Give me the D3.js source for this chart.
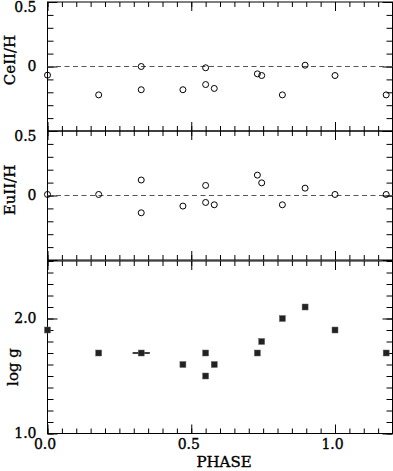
<!DOCTYPE html>
<html lang="en">
<head>
<meta charset="utf-8">
<title>CeII / EuII / log g vs phase</title>
<script src="https://cdn.jsdelivr.net/npm/d3@7"></script>
<style type="text/css">
  body { margin: 0; background: #fff; }
  svg { display: block; font-family: 'DejaVu Serif', serif; }
  text { stroke: #000; stroke-width: 0.35px; }
  .axis text { font-family: 'DejaVu Serif', serif; font-size: 14px; fill: #000; }
  .axis line { stroke: #000; }
  .axis path { display: none; }
</style>
</head>
<body>
<div id="chart"></div>
<script>

/* Data */
/* ==== */

// Abundance panels share these phases
var abPhase = [0.0, 0.178, 0.326, 0.326, 0.471, 0.55, 0.55, 0.58, 0.73, 0.745, 0.817, 0.896, 1.0, 1.178];
var ceII    = [-0.067, -0.22, 0.0, -0.18, -0.18, -0.01, -0.14, -0.17, -0.057, -0.07, -0.22, 0.01, -0.07, -0.22];
var euII    = [0.008, 0.008, 0.12, -0.134, -0.082, 0.078, -0.054, -0.072, 0.158, 0.098, -0.072, 0.057, 0.008, 0.008];

// log g panel
var gPhase    = [0.0, 0.178, 0.326, 0.471, 0.55, 0.55, 0.58, 0.73, 0.745, 0.817, 0.896, 1.0, 1.178];
var logg      = [1.9, 1.7, 1.7, 1.6, 1.7, 1.5, 1.6, 1.7, 1.8, 2.0, 2.1, 1.9, 1.7];
var gPhaseErr = [0, 0, 0.03, 0, 0, 0, 0, 0, 0, 0, 0, 0, 0];

var xMajor = [0, 0.5, 1.0];
var xLabels = ['0.0', '0.5', '1.0'];


/* Setup */
/* ===== */

var width = 393,
    height = 471,
    left = 47.5,
    right = 392.5;

var svg = d3.select('#chart').append('svg')
    .attr('width', width)
    .attr('height', height);

var x = d3.scaleLinear().domain([0, 1.2]).range([left, right]);

var xMinor = d3.range(0, 1.2001, 0.05);

var abFmt = function(d) { return d === 0 ? '0' : d3.format('.1f')(d); };

var panels = [
  { top: 2,   bottom: 131,   domain: [-0.5, 0.5], minor: d3.range(-0.5, 0.5001, 0.1), major: [-0.5, 0, 0.5],
    labels: [0.5, 0], fmt: abFmt, title: 'CeII/H', titleY: 60, titleX: 15 },
  { top: 131, bottom: 260,   domain: [-0.5, 0.5], minor: d3.range(-0.5, 0.5001, 0.1), major: [-0.5, 0, 0.5],
    labels: [0.5, 0], fmt: abFmt, title: 'EuII/H', titleY: 190, titleX: 15 },
  { top: 261, bottom: 433.5, domain: [1.0, 2.5],  minor: d3.range(1.0, 2.5001, 0.1), major: [1.0, 2.0],
    labels: [2.0, 1.0], fmt: d3.format('.1f'), title: 'log g', titleY: 367, titleX: 18 }
];

panels.forEach(function(p) {
  p.y = d3.scaleLinear().domain(p.domain).range([p.bottom, p.top]);
});


/* Frames and ticks */
/* ================ */

function drawFrame(p) {

  var g = svg.append('g');

  // inside ticks on all four sides
  [[xMinor, 5], [xMajor, 9]].forEach(function(t) {
    g.append('g').attr('class', 'axis')
      .attr('transform', 'translate(0,' + p.bottom + ')')
      .call(d3.axisBottom(x).tickValues(t[0]).tickSize(-t[1]).tickFormat(''));
    g.append('g').attr('class', 'axis')
      .attr('transform', 'translate(0,' + p.top + ')')
      .call(d3.axisTop(x).tickValues(t[0]).tickSize(-t[1]).tickFormat(''));
  });

  [[p.minor, 6], [p.major, 10]].forEach(function(t) {
    g.append('g').attr('class', 'axis')
      .attr('transform', 'translate(' + left + ',0)')
      .call(d3.axisLeft(p.y).tickValues(t[0]).tickSize(-t[1]).tickFormat(''));
    g.append('g').attr('class', 'axis')
      .attr('transform', 'translate(' + right + ',0)')
      .call(d3.axisRight(p.y).tickValues(t[0]).tickSize(-t[1]).tickFormat(''));
  });

  // y labels (the top one is pushed down to stay inside)
  var yl = g.append('g').attr('class', 'axis')
    .attr('transform', 'translate(' + left + ',0)')
    .call(d3.axisLeft(p.y).tickValues(p.labels).tickSize(0).tickPadding(11).tickFormat(p.fmt));
  yl.selectAll('.tick').attr('transform', function(d) {
    return 'translate(0,' + Math.max(p.y(d), p.top + 6) + ')';
  });

  // border
  g.append('rect')
    .attr('x', left).attr('y', p.top)
    .attr('width', right - left).attr('height', p.bottom - p.top)
    .attr('fill', 'none').attr('stroke', '#000').attr('stroke-width', 1);

  // y title
  svg.append('text')
    .attr('transform', 'translate(' + p.titleX + ',' + p.titleY + ') rotate(-90)')
    .attr('text-anchor', 'middle')
    .attr('font-size', 15)
    .attr('fill', '#000')
    .text(p.title);

} // drawFrame()

panels.forEach(drawFrame);


/* Abundance panels */
/* ================ */

[[panels[0], ceII], [panels[1], euII]].forEach(function(pair) {
  var p = pair[0], vals = pair[1];

  svg.append('line')
    .attr('x1', left).attr('x2', right)
    .attr('y1', p.y(0)).attr('y2', p.y(0))
    .attr('stroke', '#555').attr('stroke-dasharray', '5,3.5');

  svg.append('g').selectAll('circle')
    .data(vals)
    .join('circle')
      .attr('cx', function(d, i) { return x(abPhase[i]); })
      .attr('cy', function(d) { return p.y(d); })
      .attr('r', 3)
      .attr('fill', 'none')
      .attr('stroke', '#000')
      .attr('stroke-width', 1);
});


/* log g panel */
/* =========== */

var pg = panels[2];

// phase error bars
var errIdx = d3.range(logg.length).filter(function(i) { return gPhaseErr[i] > 0; });

svg.append('g').selectAll('line')
  .data(errIdx)
  .join('line')
    .attr('x1', function(i) { return x(gPhase[i] - gPhaseErr[i]); })
    .attr('x2', function(i) { return x(gPhase[i] + gPhaseErr[i]); })
    .attr('y1', function(i) { return pg.y(logg[i]); })
    .attr('y2', function(i) { return pg.y(logg[i]); })
    .attr('stroke', '#000').attr('stroke-width', 1.5);

svg.append('g').selectAll('rect')
  .data(logg)
  .join('rect')
    .attr('x', function(d, i) { return x(gPhase[i]) - 3; })
    .attr('y', function(d) { return pg.y(d) - 3; })
    .attr('width', 6).attr('height', 6)
    .attr('fill', '#222')
    .attr('stroke', '#666').attr('stroke-width', 0.5);


/* x labels */
/* ======== */

svg.append('g').attr('class', 'axis')
  .attr('transform', 'translate(-3,' + pg.bottom + ')')
  .call(d3.axisBottom(x).tickValues(xMajor).tickSize(0).tickPadding(6)
    .tickFormat(function(d, i) { return xLabels[i]; }));

svg.append('text')
  .attr('x', 224).attr('y', 467)
  .attr('text-anchor', 'middle')
  .attr('font-size', 15)
  .attr('fill', '#000')
  .text('PHASE');

</script>
</body>
</html>
